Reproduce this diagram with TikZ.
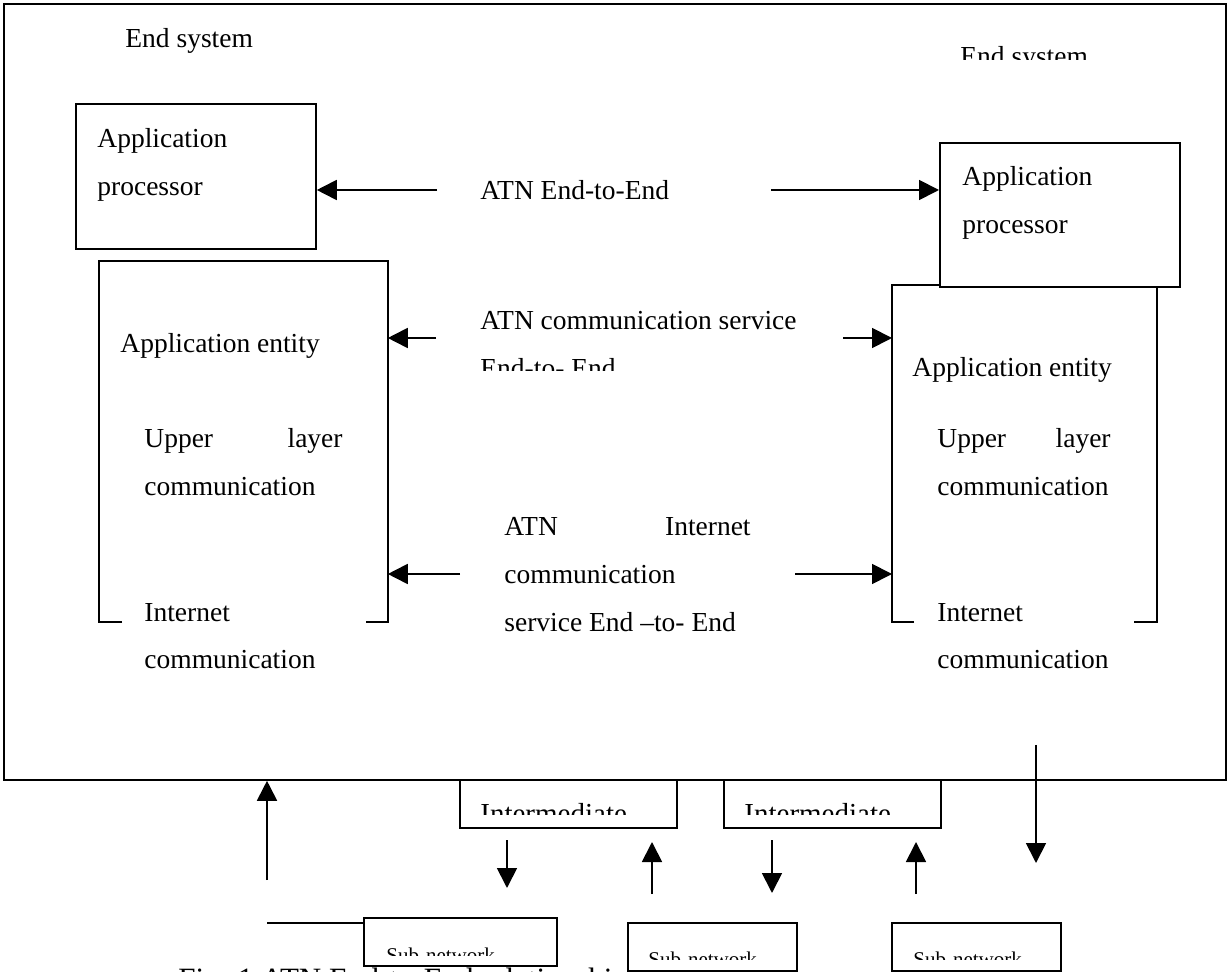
\documentclass[tikz,border=0pt]{standalone}
\usepackage{fontspec}
\setmainfont{Liberation Serif}
\usetikzlibrary{arrows.meta}

\begin{document}
\begin{tikzpicture}[
  x=0.5pt,y=-0.5pt,
  font=\fontsize{13.75}{16}\selectfont,
  >={Triangle[length=10pt,width=10pt]},
  box/.style={draw,fill=white,line width=0.9pt,inner sep=0,anchor=north west},
  frame/.style={inner sep=0,anchor=north west},
  txt/.style={anchor=base west,inner sep=0},
  txtr/.style={anchor=base east,inner sep=0},
  small/.style={txt,font=\fontsize{10.5}{12}\selectfont},
  arr/.style={->,line width=0.9pt},
  plain/.style={line width=0.9pt},
]
\useasboundingbox (0,0) rectangle (1227,972);

% caption, mostly below the page
\node[txt,font=\fontsize{15.5}{18}\selectfont] (caption) at (178,989) {Fig. 1 ATN End-to-End relationship};

% end system frame
\node[box,minimum width=611pt,minimum height=388pt] (endsys) at (3,3) {};
\node[txt] (esL) at (125,48) {End system};
\begin{scope}
  \clip (900,30) rectangle (1150,60);
  \node[txt] (esR) at (960,66) {End system};
\end{scope}

% left end system
\node[box,minimum width=120pt,minimum height=72.5pt] (procL) at (75,103) {};
\node[txt] (apL1) at (97,148) {Application};
\node[txt] (apL2) at (97,196) {processor};
\node[frame,minimum width=144pt,minimum height=180pt] (entL) at (99,261) {};
\draw[plain] ([xshift=11.5pt]entL.south west) -- (entL.south west) -- (entL.north west)
  -- (entL.north east) -- (entL.south east) -- ([xshift=-11pt]entL.south east);
\node[txt] (aeL) at (120,353) {Application entity};
\node[txt] (ulL1) at (144,448) {Upper};
\node[txtr] (ulL2) at (343,448) {layer};
\node[txt] (ulL3) at (144,496) {communication};
\node[txt] (icL1) at (144,622) {Internet};
\node[txt] (icL2) at (144,669) {communication};

% right end system
\node[frame,minimum width=132pt,minimum height=168pt] (entR) at (892,285) {};
\draw[plain] ([xshift=11pt]entR.south west) -- (entR.south west) -- (entR.north west)
  -- (entR.north east) -- (entR.south east) -- ([xshift=-11.5pt]entR.south east);
\node[box,minimum width=120pt,minimum height=72pt] (procR) at (939,142) {};
\node[txt] (apR1) at (962,186) {Application};
\node[txt] (apR2) at (962,234) {processor};
\node[txt] (aeR) at (912,377) {Application entity};
\node[txt] (ulR1) at (937,448) {Upper};
\node[txtr] (ulR2) at (1111,448) {layer};
\node[txt] (ulR3) at (937,496) {communication};
\node[txt] (icR1) at (937,622) {Internet};
\node[txt] (icR2) at (937,669) {communication};

% end-to-end services
\node[txt] (e2e) at (480,200) {ATN End-to-End};
\coordinate (e2eL) at (437,190);
\coordinate (e2eR) at (771,190);
\draw[arr] (e2eL) -- (e2eL -| procL.east);
\draw[arr] (e2eR) -- (e2eR -| procR.west);

\node[txt] (cs1) at (480,330) {ATN communication service};
\begin{scope}
  \clip (470,340) rectangle (700,371);
  \node[txt] (cs2) at (480,378) {End-to- End};
\end{scope}
\coordinate (csL) at (436,338);
\coordinate (csR) at (843,338);
\draw[arr] (csL) -- (csL -| entL.east);
\draw[arr] (csR) -- (csR -| entR.west);

\node[txt] (ic1) at (504,536) {ATN};
\node[txtr] (ic2) at (751,536) {Internet};
\node[txt] (ic3) at (504,584) {communication};
\node[txt] (ic4) at (504,632) {service End –to- End};
\coordinate (icL) at (460,574);
\coordinate (icR) at (795,574);
\draw[arr] (icL) -- (icL -| entL.east);
\draw[arr] (icR) -- (icR -| entR.west);

% intermediate systems
\node[box,minimum width=108.5pt,minimum height=24pt] (intA) at (459,779) {};
\node[box,minimum width=108.5pt,minimum height=24pt] (intB) at (723,779) {};
\begin{scope}
  \clip (intA.north west) rectangle (676,815);
  \node[txt,font=\fontsize{14.5}{16}\selectfont] (intAt) at (480,824) {Intermediate};
\end{scope}
\begin{scope}
  \clip (intB.north west) rectangle (940,815);
  \node[txt,font=\fontsize{14.5}{16}\selectfont] (intBt) at (744,824) {Intermediate};
\end{scope}

% sub-networks
\node[box,minimum width=96.5pt,minimum height=24pt] (subA) at (363,917) {};
\node[box,minimum width=84.5pt,minimum height=24pt] (subB) at (627,922) {};
\node[box,minimum width=84.5pt,minimum height=24pt] (subC) at (891,922) {};
\begin{scope}
  \clip (subA.north west) rectangle (556,955);
  \node[small] (subAt) at (386,962) {Sub-network};
\end{scope}
\begin{scope}
  \clip (subB.north west) rectangle (796,959);
  \node[small] (subBt) at (648,966) {Sub-network};
\end{scope}
\begin{scope}
  \clip (subC.north west) rectangle (1060,959);
  \node[small] (subCt) at (913,966) {Sub-network};
\end{scope}

% vertical flows
\coordinate (upA) at (267,880);
\coordinate (linkA) at (267,923);
\draw[arr] (upA) -- (upA |- endsys.south);
\draw[plain] (linkA) -- (linkA -| subA.west);
\coordinate (dnA1) at (507,840);
\coordinate (dnA2) at (507,888);
\draw[arr] (dnA1) -- (dnA2);
\coordinate (upB1) at (652,894);
\coordinate (upB2) at (652,842);
\draw[arr] (upB1) -- (upB2);
\coordinate (dnB1) at (772,840);
\coordinate (dnB2) at (772,893);
\draw[arr] (dnB1) -- (dnB2);
\coordinate (upC1) at (916,894);
\coordinate (upC2) at (916,842);
\draw[arr] (upC1) -- (upC2);
\coordinate (dnR1) at (1036,745);
\coordinate (dnR2) at (1036,863);
\draw[arr] (dnR1) -- (dnR2);

\end{tikzpicture}
\end{document}
